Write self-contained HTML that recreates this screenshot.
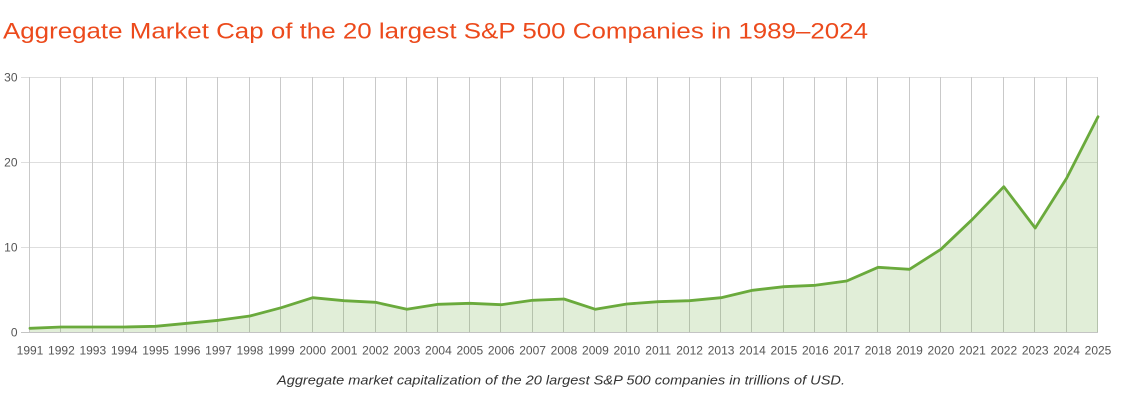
<!DOCTYPE html>
<html>
<head>
<meta charset="utf-8">
<style>
  html, body { margin: 0; padding: 0; background: #ffffff; }
  body { width: 1136px; height: 403px; overflow: hidden; }
  svg { display: block; }
  text { font-family: "Liberation Sans", "DejaVu Sans", sans-serif; }
</style>
</head>
<body>
<svg width="1136" height="403" viewBox="0 0 1136 403" xmlns="http://www.w3.org/2000/svg">
  <!-- Title -->
  <text x="3" y="38.5" font-size="22.5" fill="#ec4a1c" textLength="865" lengthAdjust="spacingAndGlyphs">Aggregate Market Cap of the 20 largest S&amp;P 500 Companies in 1989–2024</text>

  <!-- Horizontal gridlines -->
  <g stroke="#dedede" stroke-width="1">
    <line x1="21" y1="77.5" x2="1098" y2="77.5"/>
    <line x1="21" y1="162.5" x2="1098" y2="162.5"/>
    <line x1="21" y1="247.5" x2="1098" y2="247.5"/>
  </g>

  <!-- Vertical gridlines -->
  <g stroke="#c9c9c9" stroke-width="1">
    <line x1="29.5" y1="77" x2="29.5" y2="332"/>
    <line x1="60.5" y1="77" x2="60.5" y2="332"/>
    <line x1="92.5" y1="77" x2="92.5" y2="332"/>
    <line x1="123.5" y1="77" x2="123.5" y2="332"/>
    <line x1="155.5" y1="77" x2="155.5" y2="332"/>
    <line x1="186.5" y1="77" x2="186.5" y2="332"/>
    <line x1="217.5" y1="77" x2="217.5" y2="332"/>
    <line x1="249.5" y1="77" x2="249.5" y2="332"/>
    <line x1="280.5" y1="77" x2="280.5" y2="332"/>
    <line x1="312.5" y1="77" x2="312.5" y2="332"/>
    <line x1="343.5" y1="77" x2="343.5" y2="332"/>
    <line x1="375.5" y1="77" x2="375.5" y2="332"/>
    <line x1="406.5" y1="77" x2="406.5" y2="332"/>
    <line x1="437.5" y1="77" x2="437.5" y2="332"/>
    <line x1="469.5" y1="77" x2="469.5" y2="332"/>
    <line x1="500.5" y1="77" x2="500.5" y2="332"/>
    <line x1="532.5" y1="77" x2="532.5" y2="332"/>
    <line x1="563.5" y1="77" x2="563.5" y2="332"/>
    <line x1="594.5" y1="77" x2="594.5" y2="332"/>
    <line x1="626.5" y1="77" x2="626.5" y2="332"/>
    <line x1="657.5" y1="77" x2="657.5" y2="332"/>
    <line x1="689.5" y1="77" x2="689.5" y2="332"/>
    <line x1="720.5" y1="77" x2="720.5" y2="332"/>
    <line x1="751.5" y1="77" x2="751.5" y2="332"/>
    <line x1="783.5" y1="77" x2="783.5" y2="332"/>
    <line x1="814.5" y1="77" x2="814.5" y2="332"/>
    <line x1="846.5" y1="77" x2="846.5" y2="332"/>
    <line x1="877.5" y1="77" x2="877.5" y2="332"/>
    <line x1="909.5" y1="77" x2="909.5" y2="332"/>
    <line x1="940.5" y1="77" x2="940.5" y2="332"/>
    <line x1="971.5" y1="77" x2="971.5" y2="332"/>
    <line x1="1003.5" y1="77" x2="1003.5" y2="332"/>
    <line x1="1034.5" y1="77" x2="1034.5" y2="332"/>
    <line x1="1066.5" y1="77" x2="1066.5" y2="332"/>
    <line x1="1097.5" y1="77" x2="1097.5" y2="332"/>
  </g>

  <!-- Area fill -->
  <polygon fill="#6aaa3c" fill-opacity="0.2" points="30,332 30,328.3 61.4,327 92.8,327 124.2,327 155.6,326.3 187.1,323.3 218.5,320.3 249.9,316 281.3,307.7 312.7,297.7 344.1,300.7 375.5,302.3 406.9,309.3 438.4,304.3 469.8,303.3 501.2,304.7 532.6,300.3 564,299 595.4,309.3 626.8,304 658.2,301.7 689.6,300.7 721.1,297.7 752.5,290.3 783.9,286.7 815.3,285.3 846.7,281 878.1,267.3 909.5,269.3 940.9,249.3 972.4,219.3 1003.8,186.7 1035.2,228 1066.6,178.3 1098,116.7 1098,332"/>

  <!-- Baseline -->
  <line x1="21" y1="332.5" x2="1098" y2="332.5" stroke="#c4c4c4" stroke-width="1"/>

  <!-- Line -->
  <polyline fill="none" stroke="#6aaa3c" stroke-width="2.8" stroke-linejoin="round" stroke-linecap="round" points="30,328.3 61.4,327 92.8,327 124.2,327 155.6,326.3 187.1,323.3 218.5,320.3 249.9,316 281.3,307.7 312.7,297.7 344.1,300.7 375.5,302.3 406.9,309.3 438.4,304.3 469.8,303.3 501.2,304.7 532.6,300.3 564,299 595.4,309.3 626.8,304 658.2,301.7 689.6,300.7 721.1,297.7 752.5,290.3 783.9,286.7 815.3,285.3 846.7,281 878.1,267.3 909.5,269.3 940.9,249.3 972.4,219.3 1003.8,186.7 1035.2,228 1066.6,178.3 1098,116.7"/>

  <!-- Y labels -->
  <g font-size="12" fill="#555555" text-anchor="end">
    <text x="17.5" y="81.5">30</text>
    <text x="17.5" y="166.5">20</text>
    <text x="17.5" y="251.5">10</text>
    <text x="17.5" y="336.5">0</text>
  </g>

  <!-- X labels -->
  <g font-size="12" fill="#555555" text-anchor="middle">
    <text x="30" y="354.5">1991</text>
    <text x="61.4" y="354.5">1992</text>
    <text x="92.8" y="354.5">1993</text>
    <text x="124.2" y="354.5">1994</text>
    <text x="155.6" y="354.5">1995</text>
    <text x="187.1" y="354.5">1996</text>
    <text x="218.5" y="354.5">1997</text>
    <text x="249.9" y="354.5">1998</text>
    <text x="281.3" y="354.5">1999</text>
    <text x="312.7" y="354.5">2000</text>
    <text x="344.1" y="354.5">2001</text>
    <text x="375.5" y="354.5">2002</text>
    <text x="406.9" y="354.5">2003</text>
    <text x="438.4" y="354.5">2004</text>
    <text x="469.8" y="354.5">2005</text>
    <text x="501.2" y="354.5">2006</text>
    <text x="532.6" y="354.5">2007</text>
    <text x="564" y="354.5">2008</text>
    <text x="595.4" y="354.5">2009</text>
    <text x="626.8" y="354.5">2010</text>
    <text x="658.2" y="354.5">2011</text>
    <text x="689.6" y="354.5">2012</text>
    <text x="721.1" y="354.5">2013</text>
    <text x="752.5" y="354.5">2014</text>
    <text x="783.9" y="354.5">2015</text>
    <text x="815.3" y="354.5">2016</text>
    <text x="846.7" y="354.5">2017</text>
    <text x="878.1" y="354.5">2018</text>
    <text x="909.5" y="354.5">2019</text>
    <text x="940.9" y="354.5">2020</text>
    <text x="972.4" y="354.5">2021</text>
    <text x="1003.8" y="354.5">2022</text>
    <text x="1035.2" y="354.5">2023</text>
    <text x="1066.6" y="354.5">2024</text>
    <text x="1098" y="354.5">2025</text>
  </g>

  <!-- Caption -->
  <text x="277" y="384.5" font-size="13" font-style="italic" fill="#333333" textLength="568" lengthAdjust="spacingAndGlyphs">Aggregate market capitalization of the 20 largest S&amp;P 500 companies in trillions of USD.</text>
</svg>
</body>
</html>
